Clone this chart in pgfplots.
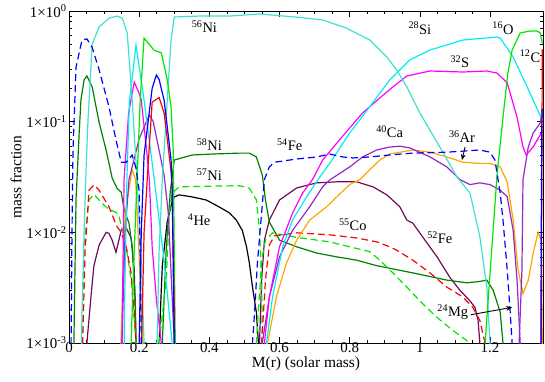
\documentclass[border=0pt]{standalone}
\usepackage{fontspec}
\setmainfont{Liberation Serif}
\usepackage{pgfplots}
\pgfplotsset{compat=1.18}
\usetikzlibrary{arrows.meta}
\definecolor{cturq}{RGB}{64,224,208}
\definecolor{ccyan}{RGB}{0,238,238}
\definecolor{clime}{RGB}{0,230,0}
\definecolor{cdkgreen}{RGB}{0,128,0}
\definecolor{cpurple}{RGB}{150,40,200}
\definecolor{cmaroon}{RGB}{115,10,85}
\definecolor{corange}{RGB}{255,165,0}
\definecolor{cmag}{RGB}{255,0,255}
\begin{document}
\begin{tikzpicture}
\begin{axis}[
  width=474bp, height=332bp, scale only axis,
  ymode=log, xmin=0, xmax=1.351, ymin=1e-3, ymax=1,
  xtick={0,0.2,0.4,0.6,0.8,1.0,1.2},
  xticklabels={0,0.2,0.4,0.6,0.8,1,1.2},
  minor x tick num=3,
  ytick={1e-3,1e-2,1e-1,1},
  yticklabels={1×10\textsuperscript{-3},1×10\textsuperscript{-2},1×10\textsuperscript{-1},1×10\textsuperscript{0}},
  minor ytick={2e-3,3e-3,4e-3,5e-3,6e-3,7e-3,8e-3,9e-3,2e-2,3e-2,4e-2,5e-2,6e-2,7e-2,8e-2,9e-2,2e-1,3e-1,4e-1,5e-1,6e-1,7e-1,8e-1,9e-1},
  major tick length=6bp, minor tick length=3.5bp,
  tick style={black, line width=0.6pt},
  axis line style={line width=0.7pt},
  xlabel={M(r) (solar mass)}, ylabel={mass fraction},
  tick label style={font=\fontsize{15}{17}\selectfont},
  label style={font=\fontsize{15.5}{17}\selectfont},
  yticklabel style={xshift=1bp},
  xticklabel style={inner sep=1pt, yshift=1.5bp},
  xlabel style={inner sep=0pt, yshift=-3bp},
  ylabel style={yshift=-2bp},
  every axis plot/.append style={line width=1.2pt},
  dashd/.style={dash pattern=on 7pt off 4pt},
]
\coordinate (ll) at (rel axis cs:0,0);

% 4He
\addplot[black] coordinates {(0.254,1e-4) (0.257,0.001) (0.263,0.003) (0.266,0.005) (0.28,0.0125) (0.294,0.019) (0.3,0.0209) (0.314,0.0218) (0.351,0.0209) (0.391,0.0196) (0.429,0.0169) (0.457,0.015) (0.477,0.0129) (0.494,0.0104) (0.506,0.0074) (0.514,0.0053) (0.523,0.0032) (0.534,0.0019) (0.54,0.001) (0.543,1e-4)};

% 52Fe
\addplot[cmaroon] coordinates {(0.05,1e-4) (0.051,0.001) (0.063,0.0027) (0.071,0.005) (0.086,0.0077) (0.106,0.01) (0.114,0.0098) (0.123,0.0085) (0.134,0.0066) (0.149,0.0105) (0.163,0.011) (0.177,0.0089) (0.186,0.0046) (0.191,0.001) (0.193,1e-4)};
\addplot[cmaroon] coordinates {(0.54,1e-4) (0.543,0.001) (0.549,0.0037) (0.557,0.0085) (0.571,0.0129) (0.6,0.0196) (0.649,0.0252) (0.706,0.028) (0.763,0.0286) (0.82,0.0286) (0.866,0.0258) (0.906,0.0218) (0.943,0.017) (0.963,0.0129) (0.98,0.0121) (1.009,0.009) (1.049,0.006) (1.086,0.0039) (1.114,0.003) (1.143,0.0024) (1.157,0.0021) (1.166,0.0016) (1.171,0.001) (1.173,1e-4)};

% 58Ni
\addplot[cdkgreen] coordinates {(0.012,1e-4) (0.014,0.001) (0.02,0.0196) (0.029,0.079) (0.034,0.157) (0.043,0.238) (0.051,0.259) (0.066,0.206) (0.086,0.098) (0.106,0.055) (0.123,0.031) (0.137,0.025) (0.149,0.023) (0.157,0.016) (0.171,0.0121) (0.18,0.0074) (0.189,0.0024) (0.191,0.001) (0.193,1e-4)};
\addplot[cdkgreen] coordinates {(0.263,1e-4) (0.266,0.001) (0.277,0.007) (0.289,0.024) (0.3,0.045) (0.351,0.05) (0.409,0.051) (0.486,0.052) (0.514,0.052) (0.534,0.048) (0.551,0.033) (0.56,0.0196) (0.571,0.0124) (0.6,0.0085) (0.649,0.0074) (0.706,0.0065) (0.763,0.006) (0.82,0.0056) (0.877,0.005) (0.98,0.0043) (1.077,0.0037) (1.134,0.0035) (1.171,0.0036) (1.191,0.0037) (1.209,0.003) (1.229,0.0019) (1.237,0.001) (1.24,1e-4)};

% 57Ni
\addplot[clime,dashd] coordinates {(0.035,1e-4) (0.037,0.001) (0.043,0.0074) (0.057,0.0196) (0.071,0.022) (0.094,0.0184) (0.114,0.016) (0.134,0.0152) (0.143,0.0138) (0.163,0.0074) (0.177,0.0037) (0.186,0.0016) (0.191,0.001) (0.193,1e-4)};
\addplot[clime,dashd] coordinates {(0.254,1e-4) (0.257,0.001) (0.277,0.0037) (0.286,0.015) (0.294,0.0226) (0.314,0.0258) (0.486,0.0264) (0.514,0.025) (0.534,0.0196) (0.543,0.0104) (0.549,0.0037) (0.551,0.001) (0.553,1e-4)};
\addplot[clime,dashd] coordinates {(0.532,1e-4) (0.534,0.001) (0.549,0.0056) (0.56,0.0085) (0.58,0.0099) (0.649,0.009) (0.743,0.0082) (0.8,0.0074) (0.857,0.0067) (0.886,0.0056) (0.923,0.0043) (0.963,0.0032) (1.0,0.0024) (1.049,0.0017) (1.094,0.0013) (1.134,0.00105) (1.15,8e-4)};

% 55Co
\addplot[red,dashd] coordinates {(0.036,1e-4) (0.039,0.001) (0.046,0.0069) (0.057,0.024) (0.071,0.0268) (0.086,0.024) (0.114,0.017) (0.137,0.0112) (0.149,0.01) (0.163,0.0074) (0.177,0.0043) (0.186,0.0019) (0.191,0.001) (0.193,1e-4)};
\addplot[red,dashd] coordinates {(0.546,1e-4) (0.549,0.001) (0.56,0.0037) (0.571,0.0077) (0.586,0.0093) (0.649,0.0099) (0.743,0.0095) (0.82,0.0089) (0.877,0.0082) (0.914,0.0074) (0.934,0.0069) (0.98,0.0056) (1.029,0.0043) (1.077,0.0032) (1.123,0.0026) (1.151,0.0021) (1.171,0.0016) (1.18,0.0012) (1.186,0.001) (1.188,1e-4)};

% 36Ar
\addplot[corange] coordinates {(0.145,1e-4) (0.148,0.001) (0.16,0.015) (0.18,0.037) (0.19,0.03) (0.2,0.006) (0.21,0.001) (0.213,1e-4)};
\addplot[corange] coordinates {(0.56,1e-4) (0.566,0.001) (0.591,0.0026) (0.62,0.0053) (0.649,0.0085) (0.686,0.0129) (0.734,0.017) (0.763,0.0209) (0.8,0.027) (0.829,0.03) (0.857,0.0367) (0.886,0.045) (0.914,0.051) (0.98,0.0555) (1.029,0.053) (1.077,0.048) (1.123,0.043) (1.171,0.042) (1.2,0.042) (1.229,0.039) (1.249,0.0285) (1.266,0.0129) (1.28,0.0046) (1.294,0.0028) (1.309,0.0037) (1.323,0.0065) (1.337,0.01) (1.346,0.0085) (1.349,0.001) (1.35,1e-4)};

% 40Ca
\addplot[cpurple] coordinates {(0.148,1e-4) (0.151,0.001) (0.16,0.01) (0.171,0.03) (0.2,0.07) (0.229,0.115) (0.24,0.1) (0.257,0.055) (0.271,0.033) (0.283,0.015) (0.29,0.005) (0.3,0.001) (0.302,1e-4)};
\addplot[cpurple] coordinates {(0.546,1e-4) (0.551,0.001) (0.571,0.0026) (0.6,0.006) (0.637,0.0104) (0.686,0.017) (0.723,0.0258) (0.743,0.0297) (0.8,0.039) (0.837,0.048) (0.877,0.0555) (0.914,0.059) (0.943,0.06) (0.971,0.058) (1.029,0.048) (1.077,0.039) (1.114,0.03) (1.143,0.027) (1.171,0.028) (1.2,0.027) (1.229,0.024) (1.249,0.021) (1.266,0.0104) (1.277,0.0037) (1.286,0.001) (1.288,1e-4)};
\addplot[cpurple] coordinates {(1.28,1e-4) (1.283,0.001) (1.291,0.0046) (1.294,0.03) (1.309,0.059) (1.323,0.079) (1.343,0.097) (1.346,0.11)};

% 32S
\addplot[cmag] coordinates {(0.149,1e-4) (0.151,0.001) (0.155,0.01) (0.157,0.03) (0.17,0.12) (0.186,0.228) (0.2,0.18) (0.206,0.157) (0.22,0.06) (0.229,0.03) (0.237,0.0074) (0.249,0.0025) (0.263,0.001) (0.266,1e-4)};
\addplot[cmag] coordinates {(0.554,1e-4) (0.557,0.001) (0.571,0.0026) (0.6,0.0074) (0.637,0.0149) (0.666,0.0227) (0.694,0.03) (0.723,0.045) (0.771,0.0685) (0.837,0.12) (0.886,0.164) (0.923,0.206) (0.963,0.259) (1.029,0.287) (1.123,0.281) (1.191,0.287) (1.22,0.275) (1.249,0.224) (1.277,0.11) (1.294,0.059) (1.303,0.05) (1.323,0.059) (1.346,0.079)};

% 28Si
\addplot[ccyan] coordinates {(0.155,1e-4) (0.158,0.002) (0.165,0.03) (0.172,0.15) (0.191,0.49) (0.214,0.157) (0.243,0.03) (0.271,0.0056) (0.294,0.001) (0.297,1e-4)};
\addplot[ccyan] coordinates {(0.557,1e-4) (0.563,0.001) (0.58,0.0026) (0.609,0.0074) (0.637,0.0129) (0.677,0.0209) (0.709,0.0297) (0.743,0.042) (0.8,0.079) (0.857,0.136) (0.914,0.238) (0.934,0.275) (0.971,0.361) (1.029,0.444) (1.123,0.547) (1.22,0.582) (1.229,0.57) (1.266,0.384) (1.306,0.206) (1.346,0.108)};

% 56Ni
\addplot[cturq] coordinates {(0.03,1e-4) (0.036,0.0013) (0.043,0.01) (0.049,0.04) (0.054,0.1) (0.066,0.5) (0.086,0.72) (0.114,0.86) (0.137,0.9) (0.152,0.86) (0.166,0.63) (0.18,0.157) (0.194,0.03) (0.206,0.0056) (0.214,0.001) (0.218,1e-4)};
\addplot[cturq] coordinates {(0.248,1e-4) (0.251,0.001) (0.257,0.007) (0.266,0.03) (0.28,0.157) (0.291,0.55) (0.3,0.883) (0.371,0.9) (0.457,0.9) (0.543,0.94) (0.649,0.88) (0.723,0.83) (0.791,0.7) (0.857,0.547) (0.906,0.384) (0.934,0.293) (0.963,0.206) (1.0,0.12) (1.057,0.059) (1.106,0.0316) (1.143,0.0226) (1.171,0.0091) (1.191,0.0032) (1.2,0.001) (1.203,1e-4)};

% 16O
\addplot[clime] coordinates {(0.174,1e-4) (0.177,0.001) (0.186,0.0069) (0.194,0.03) (0.203,0.157) (0.214,0.57) (0.243,0.44) (0.263,0.42) (0.28,0.24) (0.291,0.135) (0.297,0.056) (0.3,0.0069) (0.303,0.001) (0.305,1e-4)};
\addplot[clime] coordinates {(1.184,1e-4) (1.186,0.001) (1.22,0.033) (1.237,0.11) (1.251,0.275) (1.263,0.444) (1.286,0.633) (1.314,0.66) (1.334,0.66) (1.343,0.633) (1.349,0.51)};

% 12C
\addplot[red] coordinates {(0.203,1e-4) (0.207,0.001) (0.214,0.01) (0.223,0.03) (0.237,0.15) (0.257,0.165) (0.271,0.12) (0.28,0.07) (0.291,0.035) (0.294,0.025) (0.3,0.002) (0.302,1e-4)};
\addplot[red] coordinates {(1.345,1e-4) (1.347,0.01) (1.349,0.45)};

% blue solid
\addplot[blue] coordinates {(0.197,1e-4) (0.2,0.001) (0.206,0.01) (0.214,0.05) (0.237,0.2) (0.249,0.264) (0.257,0.24) (0.271,0.157) (0.28,0.09) (0.291,0.045) (0.294,0.025) (0.297,0.005) (0.3,0.001) (0.302,1e-4)};
\addplot[blue] coordinates {(1.344,1e-4) (1.346,0.01) (1.348,0.13)};

% 54Fe
\addplot[blue,dashd] coordinates {(0.004,1e-4) (0.006,0.001) (0.0086,0.0105) (0.0114,0.055) (0.02,0.31) (0.037,0.547) (0.051,0.56) (0.066,0.47) (0.086,0.293) (0.114,0.136) (0.134,0.068) (0.149,0.043) (0.163,0.043) (0.18,0.05) (0.191,0.038) (0.2,0.024) (0.203,0.0056) (0.206,0.001) (0.208,1e-4)};
\addplot[blue,dashd] coordinates {(0.52,1e-4) (0.523,0.001) (0.529,0.0019) (0.537,0.0053) (0.549,0.015) (0.557,0.03) (0.571,0.039) (0.586,0.043) (0.649,0.046) (0.706,0.048) (0.743,0.051) (0.78,0.048) (0.809,0.047) (0.857,0.048) (0.914,0.05) (0.98,0.052) (1.077,0.053) (1.171,0.0555) (1.2,0.053) (1.214,0.045) (1.229,0.0226) (1.237,0.0129) (1.249,0.0046) (1.257,0.002) (1.263,0.001) (1.265,1e-4)};

% labels
\begin{scope}[every node/.style={font=\fontsize{14.5}{16}\selectfont, inner sep=0pt}]
\node at (axis cs:0.386,0.717) {\textsuperscript{56}Ni};
\node at (axis cs:1.0,0.70) {\textsuperscript{28}Si};
\node at (axis cs:1.237,0.70) {\textsuperscript{16}O};
\node at (axis cs:1.314,0.39) {\textsuperscript{12}C};
\node at (axis cs:1.114,0.346) {\textsuperscript{32}S};
\node at (axis cs:0.4,0.0616) {\textsuperscript{58}Ni};
\node at (axis cs:0.629,0.0616) {\textsuperscript{54}Fe};
\node at (axis cs:0.914,0.081) {\textsuperscript{40}Ca};
\node at (axis cs:1.12,0.073) {\textsuperscript{36}Ar};
\node at (axis cs:0.4,0.033) {\textsuperscript{57}Ni};
\node at (axis cs:0.371,0.0129) {\textsuperscript{4}He};
\node at (axis cs:0.809,0.0117) {\textsuperscript{55}Co};
\node at (axis cs:1.057,0.0089) {\textsuperscript{52}Fe};
\node at (axis cs:1.094,0.0019) {\textsuperscript{24}Mg};
\end{scope}
\draw[-{Stealth[length=6pt,width=5pt]}, line width=0.9pt] (axis cs:1.129,0.059) -- (axis cs:1.12,0.045);
\draw[-{Stealth[length=6pt,width=5pt]}, line width=0.9pt] (axis cs:1.145,0.0018) -- (axis cs:1.263,0.0021);
\end{axis}
\pgfresetboundingbox
\path ([shift={(-69bp,-39bp)}]ll) rectangle ++(545bp,382bp);
\end{tikzpicture}
\end{document}
